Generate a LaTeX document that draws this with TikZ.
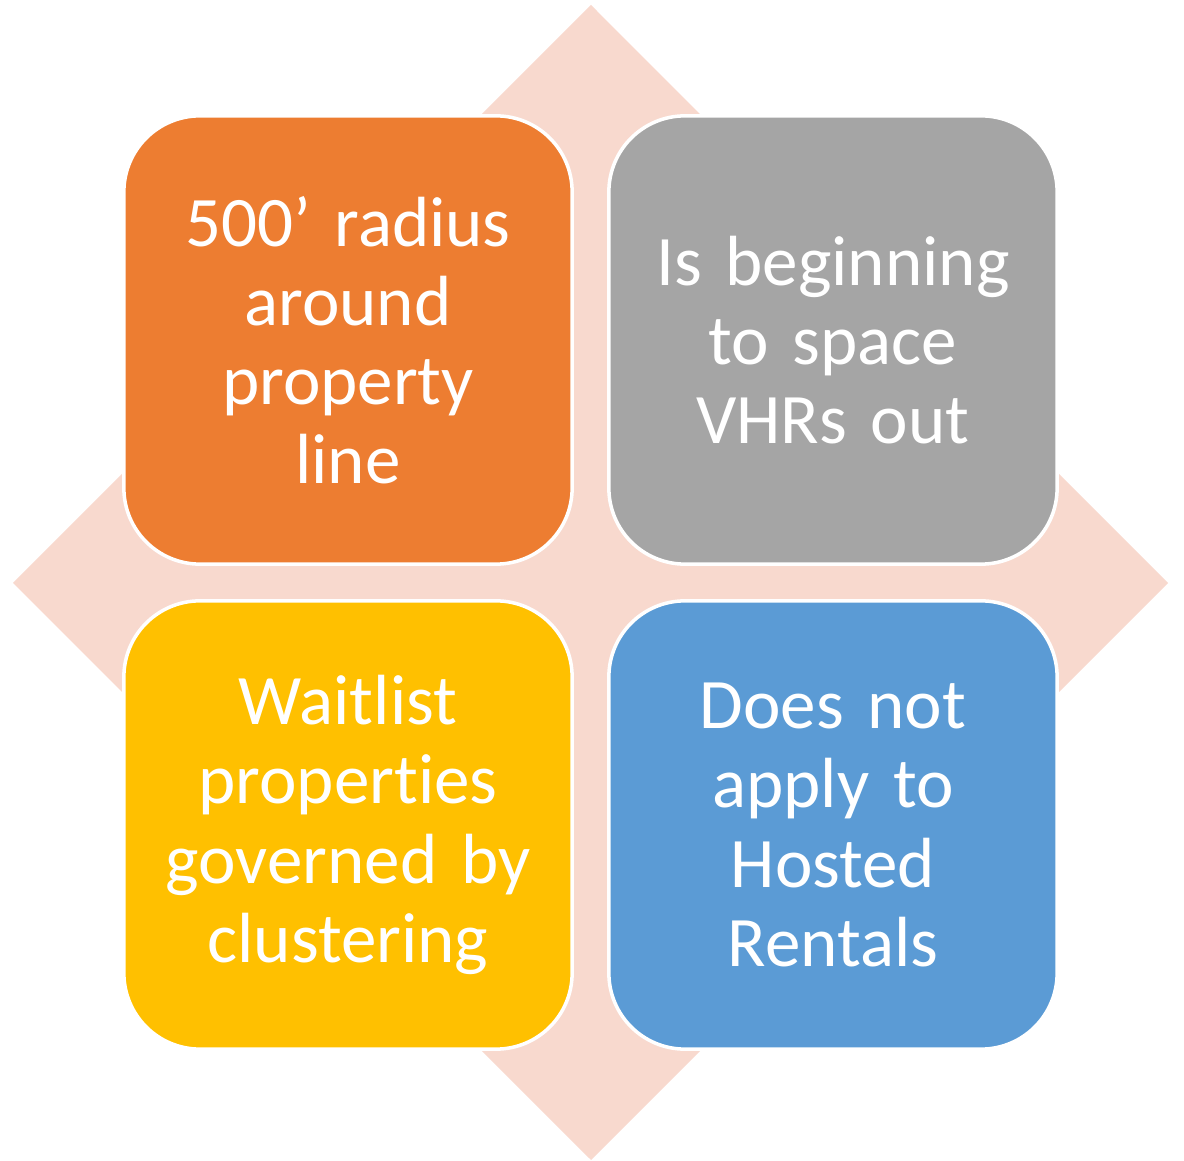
\documentclass[tikz,border=0pt]{standalone}
\usepackage{fontspec}
\setmainfont{Carlito}[Ligatures=NoCommon]
\usetikzlibrary{positioning}
\definecolor{tileorange}{HTML}{ED7D31}
\definecolor{tilegray}{HTML}{A5A5A5}
\definecolor{tileyellow}{HTML}{FFC000}
\definecolor{tileblue}{HTML}{5B9BD5}
\definecolor{diamondpink}{HTML}{F8D9CE}
\tikzset{
    tile/.style={
        rectangle,
        rounded corners=0.76cm,
        draw=white,
        line width=1pt,
        minimum width=4.48cm,
        minimum height=4.48cm,
        inner sep=0pt,
        text=white,
        text width=4.2cm,
        align=center,
        font=\fontsize{20.2pt}{22.5pt}\selectfont
    }
}
\begin{document}
\begin{tikzpicture}[x=0.01cm,y=-0.01cm]
\useasboundingbox (0,0) rectangle (1184,1161);
\fill[diamondpink] (591,5) -- (1168,583) -- (591,1160) -- (13,583) -- cycle;
\node[tile,fill=tileorange] (radius) at (348,340) {500’ radius\\around\\property\\line};
\node[tile,fill=tilegray] (spacing) at (833,340) {Is beginning\\to space\\VHRs out};
\node[tile,fill=tileyellow] (waitlist) at (348,825) {Waitlist\\properties\\governed by\\clustering};
\node[tile,fill=tileblue] (hosted) at (833,825) {Does not\\apply to\\Hosted\\Rentals};
\end{tikzpicture}
\end{document}
